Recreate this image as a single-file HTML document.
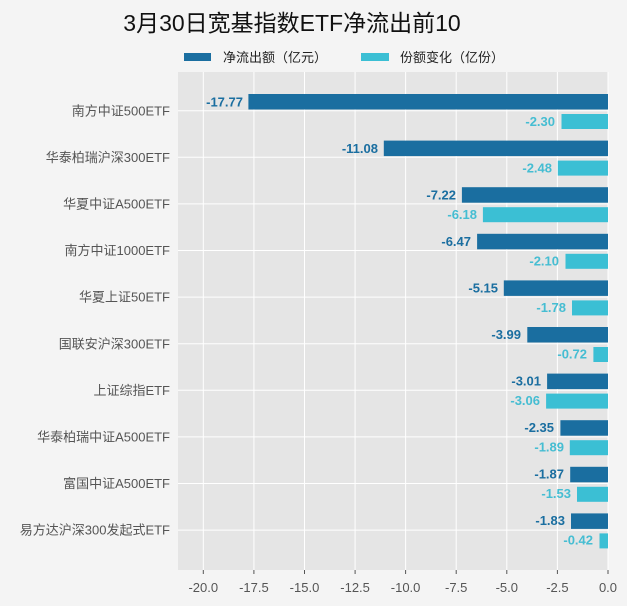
<!DOCTYPE html>
<html><head><meta charset="utf-8"><style>
html,body{margin:0;padding:0;background:#f4f4f4;}
svg{display:block;font-family:"Liberation Sans","Noto Sans CJK SC",sans-serif;}
</style></head><body>
<svg width="627" height="606" viewBox="0 0 627 606" xmlns="http://www.w3.org/2000/svg">
<rect width="627" height="606" fill="#f4f4f4"/>
<text x="292" y="31" font-size="23" text-anchor="middle" fill="#111">3月30日宽基指数ETF净流出前10</text>
<rect x="184" y="53" width="27" height="8" fill="#1a6ea0"/>
<text x="223" y="62" font-size="13" fill="#222">净流出额（亿元）</text>
<rect x="361" y="53" width="28" height="8" fill="#3bbfd4"/>
<text x="400" y="62" font-size="13" fill="#222">份额变化（亿份）</text>
<rect x="178" y="72" width="430" height="498" fill="#e5e5e5"/>
<g stroke="#fff" stroke-width="1">
<line x1="203.3" y1="72" x2="203.3" y2="570"/><line x1="253.9" y1="72" x2="253.9" y2="570"/>
<line x1="304.5" y1="72" x2="304.5" y2="570"/><line x1="355.1" y1="72" x2="355.1" y2="570"/>
<line x1="405.6" y1="72" x2="405.6" y2="570"/><line x1="456.2" y1="72" x2="456.2" y2="570"/>
<line x1="506.8" y1="72" x2="506.8" y2="570"/><line x1="557.4" y1="72" x2="557.4" y2="570"/>
<line x1="608" y1="72" x2="608" y2="570"/>
<line x1="178" y1="110.7" x2="608" y2="110.7"/><line x1="178" y1="157.3" x2="608" y2="157.3"/>
<line x1="178" y1="203.9" x2="608" y2="203.9"/><line x1="178" y1="250.5" x2="608" y2="250.5"/>
<line x1="178" y1="297.1" x2="608" y2="297.1"/><line x1="178" y1="343.7" x2="608" y2="343.7"/>
<line x1="178" y1="390.3" x2="608" y2="390.3"/><line x1="178" y1="436.9" x2="608" y2="436.9"/>
<line x1="178" y1="483.5" x2="608" y2="483.5"/><line x1="178" y1="530.1" x2="608" y2="530.1"/>
</g>
<g stroke="#555" stroke-width="1">
<line x1="203.3" y1="570" x2="203.3" y2="574"/><line x1="253.9" y1="570" x2="253.9" y2="574"/>
<line x1="304.5" y1="570" x2="304.5" y2="574"/><line x1="355.1" y1="570" x2="355.1" y2="574"/>
<line x1="405.6" y1="570" x2="405.6" y2="574"/><line x1="456.2" y1="570" x2="456.2" y2="574"/>
<line x1="506.8" y1="570" x2="506.8" y2="574"/><line x1="557.4" y1="570" x2="557.4" y2="574"/>
<line x1="608" y1="570" x2="608" y2="574"/>
</g>
<g font-size="13" fill="#555" text-anchor="middle">
<text x="203.3" y="592">-20.0</text><text x="253.9" y="592">-17.5</text><text x="304.5" y="592">-15.0</text>
<text x="355.1" y="592">-12.5</text><text x="405.6" y="592">-10.0</text><text x="456.2" y="592">-7.5</text>
<text x="506.8" y="592">-5.0</text><text x="557.4" y="592">-2.5</text><text x="608" y="592">0.0</text>
</g>
<g font-size="13" fill="#555" text-anchor="end">
<text x="170" y="115.5">南方中证500ETF</text>
<text x="170" y="162">华泰柏瑞沪深300ETF</text>
<text x="170" y="208.5">华夏中证A500ETF</text>
<text x="170" y="255">南方中证1000ETF</text>
<text x="170" y="301.5">华夏上证50ETF</text>
<text x="170" y="348.5">国联安沪深300ETF</text>
<text x="170" y="395">上证综指ETF</text>
<text x="170" y="441.5">华泰柏瑞中证A500ETF</text>
<text x="170" y="488">富国中证A500ETF</text>
<text x="170" y="534.5">易方达沪深300发起式ETF</text>
</g>
<g fill="#1a6ea0">
<rect x="248.4" y="94" width="359.6" height="15.5"/>
<rect x="383.8" y="140.6" width="224.2" height="15.5"/>
<rect x="461.9" y="187.2" width="146.1" height="15.5"/>
<rect x="477.1" y="233.8" width="130.9" height="15.5"/>
<rect x="503.8" y="280.4" width="104.2" height="15.5"/>
<rect x="527.3" y="327" width="80.7" height="15.5"/>
<rect x="547.1" y="373.6" width="60.9" height="15.5"/>
<rect x="560.4" y="420.2" width="47.6" height="15.5"/>
<rect x="570.2" y="466.8" width="37.8" height="15.5"/>
<rect x="571" y="513.4" width="37" height="15.5"/>
</g>
<g fill="#3bbfd4">
<rect x="561.5" y="114" width="46.5" height="15"/>
<rect x="557.8" y="160.6" width="50.2" height="15"/>
<rect x="482.9" y="207.2" width="125.1" height="15"/>
<rect x="565.5" y="253.8" width="42.5" height="15"/>
<rect x="572" y="300.4" width="36" height="15"/>
<rect x="593.4" y="347" width="14.6" height="15"/>
<rect x="546.1" y="393.6" width="61.9" height="15"/>
<rect x="569.8" y="440.2" width="38.2" height="15"/>
<rect x="577" y="486.8" width="31" height="15"/>
<rect x="599.5" y="533.4" width="8.5" height="15"/>
</g>
<g font-size="13" font-weight="bold" fill="#1a6ea0" text-anchor="end">
<text x="243" y="106.5">-17.77</text>
<text x="378" y="153">-11.08</text>
<text x="456" y="199.5">-7.22</text>
<text x="471" y="246">-6.47</text>
<text x="498" y="292.5">-5.15</text>
<text x="521" y="339">-3.99</text>
<text x="541" y="385.5">-3.01</text>
<text x="554" y="432">-2.35</text>
<text x="564" y="478.5">-1.87</text>
<text x="565" y="525">-1.83</text>
</g>
<g font-size="13" font-weight="bold" fill="#45bdd2" text-anchor="end">
<text x="555" y="126">-2.30</text>
<text x="552" y="172.5">-2.48</text>
<text x="477" y="219">-6.18</text>
<text x="559" y="265.5">-2.10</text>
<text x="566" y="312">-1.78</text>
<text x="587" y="358.5">-0.72</text>
<text x="540" y="405">-3.06</text>
<text x="564" y="451.5">-1.89</text>
<text x="571" y="498">-1.53</text>
<text x="593" y="544.5">-0.42</text>
</g>
</svg>
</body></html>
